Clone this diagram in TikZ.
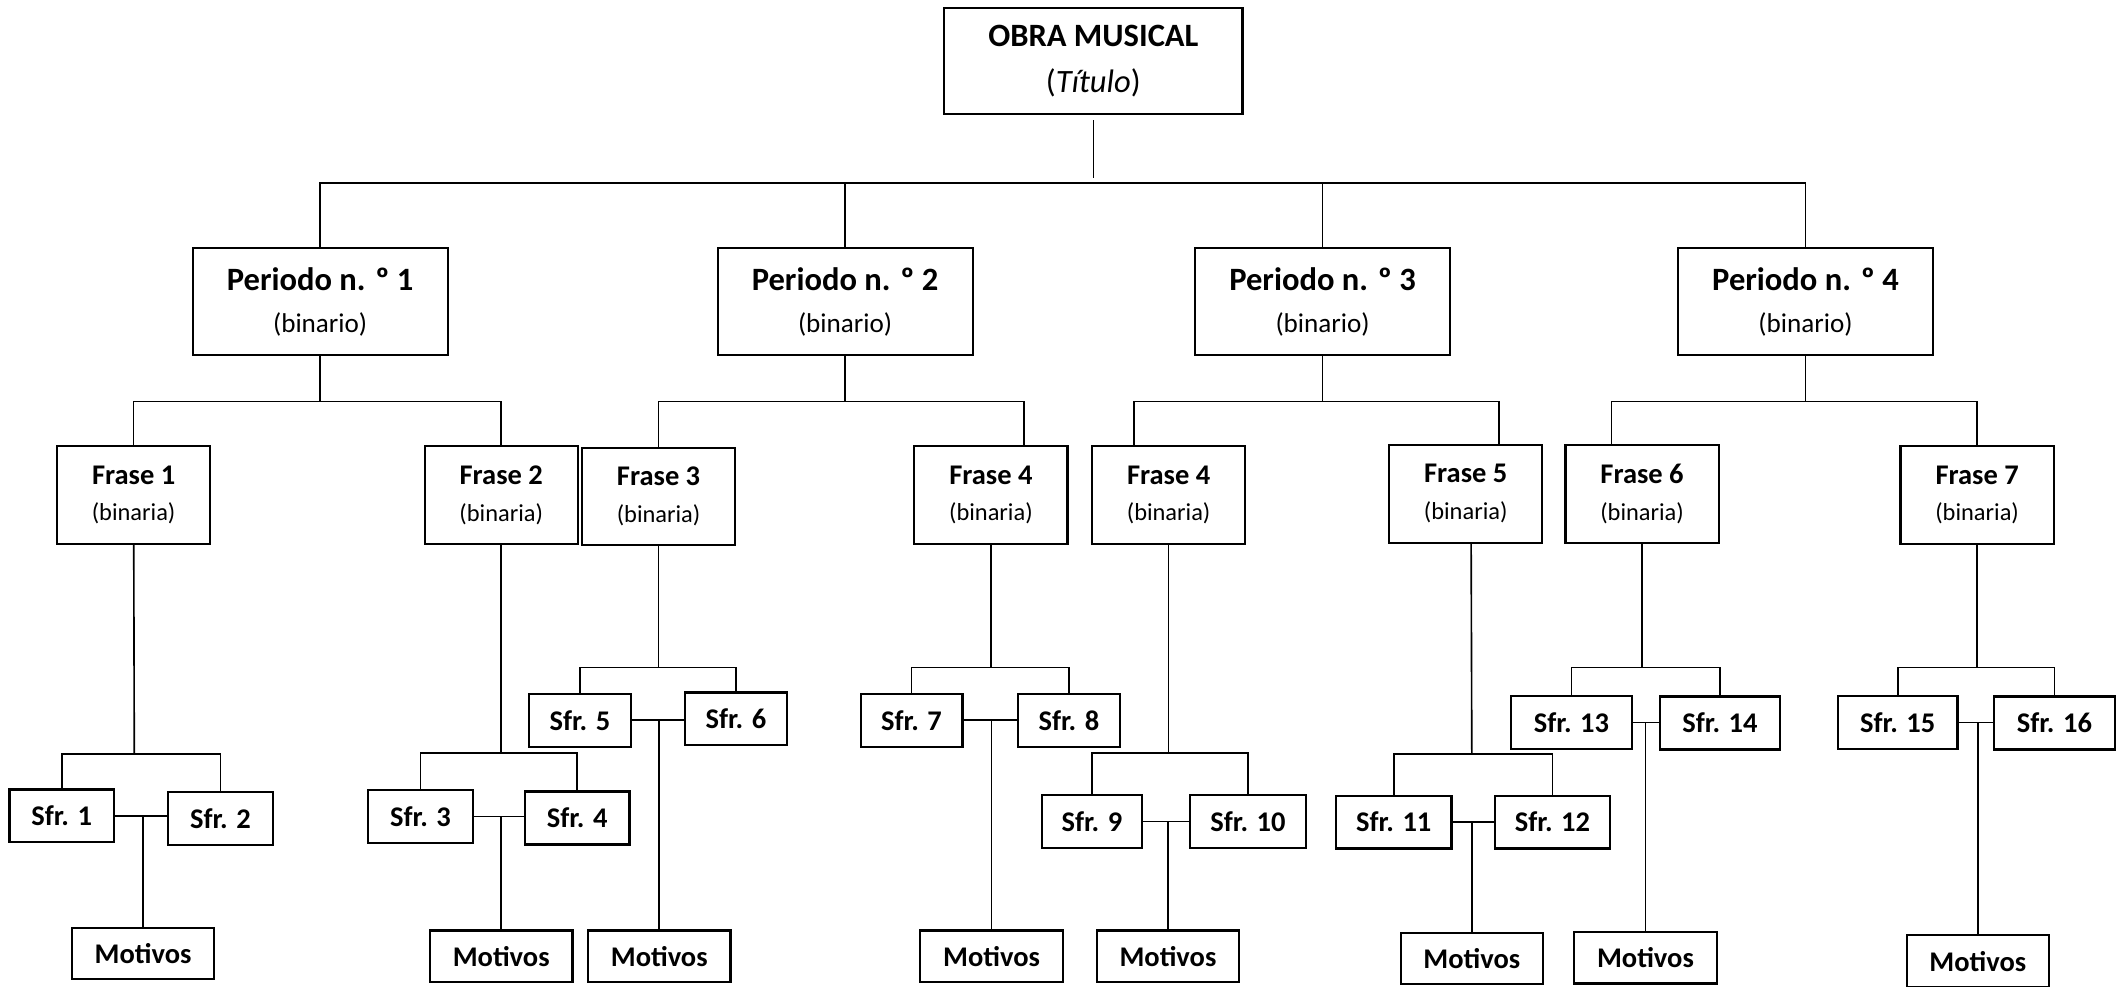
\documentclass[tikz,border=0pt]{standalone}
\usepackage{fontspec}
\setmainfont{Carlito}
\newcommand{\pertext}[1]{\textbf{Periodo n. º #1}\\{\fontsize{10}{15.5}\selectfont (binario)}}
\newcommand{\frtext}[1]{\textbf{Frase #1}\\{\fontsize{9}{13.5}\selectfont (binaria)}}
\begin{document}
\begin{tikzpicture}[x=0.5pt, y=-0.5pt, line width=0.6pt,
    box/.style = {draw, line width=0.8pt, align=center, inner sep=0pt},
    obra/.style = {box, minimum width=110pt, minimum height=39pt, font=\fontsize{12}{17}\selectfont},
    periodo/.style = {box, minimum width=94pt, minimum height=39.5pt, font=\fontsize{12}{15.5}\selectfont},
    frase/.style = {box, minimum width=56.5pt, minimum height=36pt, font=\fontsize{10.5}{13.5}\selectfont},
    sfr/.style = {box, minimum width=38.5pt, minimum height=19.5pt, font=\bfseries\fontsize{10.5}{12}\selectfont},
    motivos/.style = {box, minimum width=52.5pt, minimum height=19pt, font=\bfseries\fontsize{10.5}{12}\selectfont}]
    \useasboundingbox (0,0) rectangle (1568,727);
    \node[obra] (obra) at (806,45) {\textbf{OBRA MUSICAL}\\(\textit{Título})};
    \node[periodo] (p1) at (236,222.5) {\pertext{1}};
    \node[periodo] (p2) at (623,222.5) {\pertext{2}};
    \node[periodo] (p3) at (975,222.5) {\pertext{3}};
    \node[periodo] (p4) at (1331,222.5) {\pertext{4}};
    \node[frase] (f1) at (98.5,365) {\frtext{1}};
    \node[frase] (f2) at (369.5,365) {\frtext{2}};
    \node[frase] (f3) at (485.5,366) {\frtext{3}};
    \node[frase] (f4a) at (730.5,365) {\frtext{4}};
    \node[frase] (f4b) at (861.5,365) {\frtext{4}};
    \node[frase] (f5) at (1080.5,364) {\frtext{5}};
    \node[frase] (f6) at (1210.5,364) {\frtext{6}};
    \node[frase] (f7) at (1457.5,365) {\frtext{7}};
    \node[sfr] (s1) at (45.5,601.5) {Sfr. 1};
    \node[sfr] (s2) at (162.5,603.5) {Sfr. 2};
    \node[sfr] (s3) at (310,602) {Sfr. 3};
    \node[sfr] (s4) at (425.5,603) {Sfr. 4};
    \node[sfr, minimum width=37.5pt] (s5) at (427.5,531) {Sfr. 5};
    \node[sfr, minimum width=37.5pt] (s6) at (542.5,530) {Sfr. 6};
    \node[sfr, minimum width=37.5pt] (s7) at (672,531) {Sfr. 7};
    \node[sfr, minimum width=37.5pt] (s8) at (788,531) {Sfr. 8};
    \node[sfr, minimum width=37pt] (s9) at (805,605.5) {Sfr. 9};
    \node[sfr, minimum width=43pt] (s10) at (920,605.5) {Sfr. 10};
    \node[sfr, minimum width=42.5pt] (s11) at (1027.5,606) {Sfr. 11};
    \node[sfr, minimum width=42.5pt] (s12) at (1144.5,606) {Sfr. 12};
    \node[sfr, minimum width=44.5pt] (s13) at (1158.5,532.5) {Sfr. 13};
    \node[sfr, minimum width=44pt] (s14) at (1268,533) {Sfr. 14};
    \node[sfr, minimum width=44pt] (s15) at (1399,532.5) {Sfr. 15};
    \node[sfr, minimum width=44.5pt] (s16) at (1514.5,533) {Sfr. 16};
    \node[motivos] (m1) at (105.5,703) {Motivos};
    \node[motivos] (m2) at (369.5,705) {Motivos};
    \node[motivos] (m3) at (486,705) {Motivos};
    \node[motivos] (m4) at (731,705) {Motivos};
    \node[motivos] (m5) at (861,705) {Motivos};
    \node[motivos] (m6) at (1085,706.5) {Motivos};
    \node[motivos] (m7) at (1213,706) {Motivos};
    \node[motivos] (m8) at (1458,708.5) {Motivos};
    \coordinate (b0) at (806,135);
    \coordinate (bp1) at (236,296);
    \coordinate (bp2) at (623,296);
    \coordinate (bp3) at (975,296);
    \coordinate (bp4) at (1331,296);
    \coordinate (bf1) at (99,556);
    \coordinate (bf2) at (369.5,555);
    \coordinate (bf3) at (485.5,492);
    \coordinate (bf4a) at (730.5,492);
    \coordinate (bf4b) at (861.5,555);
    \coordinate (bf5) at (1085,556);
    \coordinate (bf6) at (1210.5,492);
    \coordinate (bf7) at (1457.5,492);
    \draw[shorten <=2pt, shorten >=2pt] (obra) -- (b0);
    \draw (p1) |- (b0) -| (p4);
    \draw (p2) -- (p2 |- b0);
    \draw (p3) -- (p3 |- b0);
    \draw (p1) -- (bp1);
    \draw (f1) |- (bp1) -| (f2);
    \draw (p2) -- (bp2);
    \draw (f3) |- (bp2) -| ([xshift=12.25pt]f4a.north);
    \draw (p3) -- (bp3);
    \draw ([xshift=-12.75pt]f4b.north) |- (bp3) -| ([xshift=12.25pt]f5.north);
    \draw (p4) -- (bp4);
    \draw ([xshift=-11.25pt]f6.north) |- (bp4) -| (f7);
    \draw (f1) -- (bf1);
    \draw (s1) |- (bf1) -| (s2);
    \draw (s1.east) -- (s1.east -| s2.west);
    \draw (m1) -- (m1 |- s1.east);
    \draw (f2) -- (bf2);
    \draw (s3) |- (bf2) -| (s4);
    \draw (s3.east) -- (s3.east -| s4.west);
    \draw (m2) -- (m2 |- s3.east);
    \draw (f3) -- (bf3);
    \draw (s5) |- (bf3) -| (s6);
    \draw (s5.east) -- (s5.east -| s6.west);
    \draw (m3) -- (m3 |- s5.east);
    \draw (f4a) -- (bf4a);
    \draw (s7) |- (bf4a) -| (s8);
    \draw (s7.east) -- (s7.east -| s8.west);
    \draw (m4) -- (m4 |- s7.east);
    \draw (f4b) -- (bf4b);
    \draw (s9) |- (bf4b) -| (s10);
    \draw (s9.east) -- (s9.east -| s10.west);
    \draw (m5) -- (m5 |- s9.east);
    \draw ([xshift=2pt]f5.south) -- (bf5);
    \draw (s11) |- (bf5) -| (s12);
    \draw (s11.east) -- (s11.east -| s12.west);
    \draw (m6) -- (m6 |- s11.east);
    \draw (f6) -- (bf6);
    \draw (s13) |- (bf6) -| (s14);
    \draw (s13.east) -- (s13.east -| s14.west);
    \draw (m7) -- (m7 |- s13.east);
    \draw (f7) -- (bf7);
    \draw (s15) |- (bf7) -| (s16);
    \draw (s15.east) -- (s15.east -| s16.west);
    \draw (m8) -- (m8 |- s15.east);
\end{tikzpicture}
\end{document}
